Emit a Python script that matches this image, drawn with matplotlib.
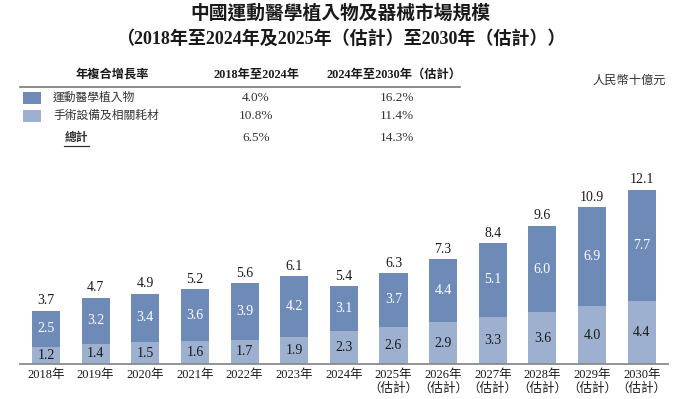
import matplotlib
matplotlib.use("Agg")
import matplotlib.pyplot as plt
from matplotlib.patches import Rectangle
from matplotlib.lines import Line2D

plt.rcParams['font.family'] = ['Liberation Serif', 'Noto Sans CJK TC', 'DejaVu Sans']

W, H = 681, 399

title_lines = ["中國運動醫學植入物及器械市場規模",
               "（2018年至2024年及2025年（估計）至2030年（估計））"]
years = ["2018年", "2019年", "2020年", "2021年", "2022年", "2023年", "2024年",
         "2025年\n（估計）", "2026年\n（估計）", "2027年\n（估計）", "2028年\n（估計）",
         "2029年\n（估計）", "2030年\n（估計）"]
equipment = [1.2, 1.4, 1.5, 1.6, 1.7, 1.9, 2.3, 2.6, 2.9, 3.3, 3.6, 4.0, 4.4]
implants = [2.5, 3.2, 3.4, 3.6, 3.9, 4.2, 3.1, 3.7, 4.4, 5.1, 6.0, 6.9, 7.7]
totals = [3.7, 4.7, 4.9, 5.2, 5.6, 6.1, 5.4, 6.3, 7.3, 8.4, 9.6, 10.9, 12.1]

series_names = ["運動醫學植入物", "手術設備及相關耗材"]
table_header = ["年複合增長率", "2018年至2024年", "2024年至2030年（估計）"]
cagr_hist = ["4.0%", "10.8%", "6.5%"]
cagr_fore = ["16.2%", "11.4%", "14.3%"]
total_label = "總計"
unit_label = "人民幣十億元"

c_dark = "#6E8BB8"
c_light = "#9DB0CF"

fig = plt.figure(figsize=(W / 100, H / 100), dpi=100)

def fx(x):
    return x / W

def fy(y):
    return 1 - y / H

# axes: x 20..668 px, y 364 (zero) .. 177 (13 units)
ax = fig.add_axes([fx(20), fy(364), (668 - 20) / W, (364 - 177) / H])
x = list(range(len(years)))
bw = 0.565
ax.bar(x, equipment, width=bw, color=c_light, zorder=2)
ax.bar(x, implants, width=bw, bottom=equipment, color=c_dark, zorder=2)
ax.set_xlim(-0.524, 12.53)
ax.set_ylim(0, 13)

for i in x:
    ax.text(i, equipment[i] / 2, f"{equipment[i]:.1f}", ha="center", va="center",
            fontsize=10, color="#1a1a1a")
    ax.text(i, equipment[i] + implants[i] / 2, f"{implants[i]:.1f}", ha="center",
            va="center", fontsize=10, color="white")
    ax.annotate(f"{totals[i]:.1f}", (i, equipment[i] + implants[i]),
                xytext=(0, 2.5), textcoords="offset points", ha="center", va="bottom",
                fontsize=10, color="#1a1a1a")

for s in ["top", "right", "left"]:
    ax.spines[s].set_visible(False)
ax.spines["bottom"].set_color("#8a8a8a")
ax.spines["bottom"].set_linewidth(1.3)
ax.set_yticks([])
ax.set_xticks(x)
ax.set_xticklabels(years, fontsize=9, linespacing=1.15)
ax.tick_params(axis="x", length=0, pad=3.5, colors="#1a1a1a")

# title
fig.text(0.5, fy(13), title_lines[0], ha="center", va="center", fontsize=13.5,
         fontweight="bold", color="#1a1a1a")
fig.text(0.5, fy(39), title_lines[1], ha="center", va="center", fontsize=13,
         fontweight="bold", color="#1a1a1a")

# table
fig.text(fx(112), fy(75), table_header[0], ha="center", va="center", fontsize=8.8,
         fontweight="bold", color="#1a1a1a")
fig.text(fx(256), fy(75), table_header[1], ha="center", va="center", fontsize=8.8,
         fontweight="bold", color="#1a1a1a")
fig.text(fx(394), fy(75), table_header[2], ha="center", va="center", fontsize=8.8,
         fontweight="bold", color="#1a1a1a")
fig.add_artist(Line2D([fx(20), fx(460)], [fy(86.5), fy(86.5)], color="#777777",
                      lw=1.2, transform=fig.transFigure))

row_y = [98, 116, 138]
for j, (name, col) in enumerate(zip(series_names, [c_dark, c_light])):
    fig.add_artist(Rectangle((fx(23), fy(row_y[j] + 6)), 18 / W, 12 / H,
                             facecolor=col, edgecolor="none",
                             transform=fig.transFigure))
    fig.text(fx(53), fy(row_y[j]), name, ha="left", va="center", fontsize=8.5,
             color="#333333")
fig.text(fx(76), fy(row_y[2]), total_label, ha="center", va="center", fontsize=8.5,
         fontweight="bold", color="#333333")
fig.add_artist(Line2D([fx(64), fx(89)], [fy(146), fy(146)], color="#333333",
                      lw=0.9, transform=fig.transFigure))
for j in range(3):
    fig.text(fx(256), fy(row_y[j]), cagr_hist[j], ha="center", va="center",
             fontsize=9.5, color="#333333")
    fig.text(fx(397), fy(row_y[j]), cagr_fore[j], ha="center", va="center",
             fontsize=9.5, color="#333333")

fig.text(fx(666), fy(81), unit_label, ha="right", va="center", fontsize=8.8,
         style="italic", color="#333333")

fig.savefig("out.png", dpi=100)
